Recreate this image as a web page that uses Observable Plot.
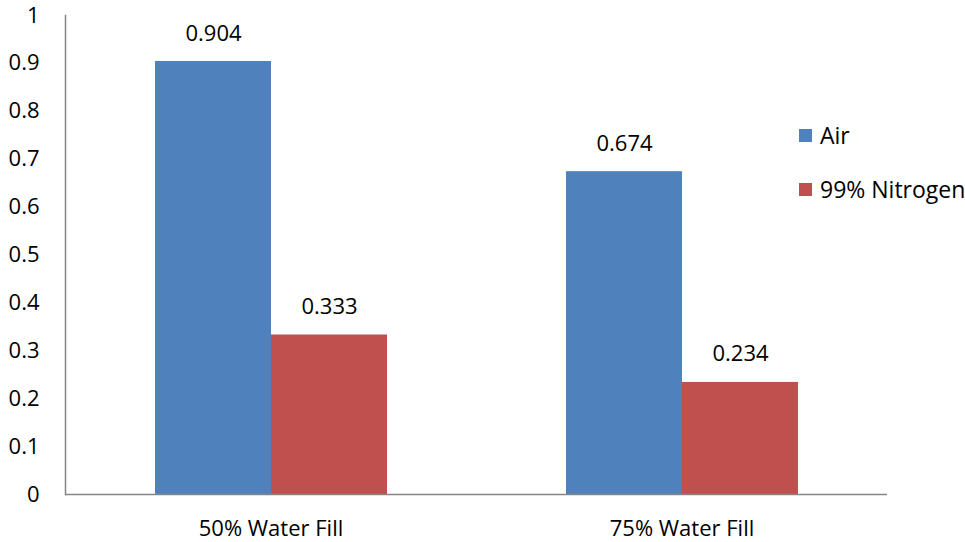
<!DOCTYPE html>
<html>
<head>
<meta charset="utf-8">
<script src="https://cdn.jsdelivr.net/npm/d3@7"></script>
<script src="https://cdn.jsdelivr.net/npm/@observablehq/plot@0.6"></script>
<style>
  html, body { margin: 0; padding: 0; background: #fff; }
  #chart { position: relative; width: 965px; height: 542px; overflow: hidden; font-family: "Open Sans", Lato, sans-serif; }
  .legend { position: absolute; left: 799px; top: 120px; font-size: 23px; color: #000; }
  .legend .item { display: flex; align-items: center; height: 30px; margin-bottom: 24px; white-space: nowrap; }
  .legend .swatch { width: 13px; height: 13px; margin-right: 8px; flex: none; }
</style>
</head>
<body>
<div id="chart"></div>
<script>
// Water fill level groups and the two gas series
const groups = ["50% Water Fill", "75% Water Fill"];
const series = ["Air", "99% Nitrogen"];
const airValues = [0.904, 0.674];
const nitrogenValues = [0.333, 0.234];
const yTicks = [0, 0.1, 0.2, 0.3, 0.4, 0.5, 0.6, 0.7, 0.8, 0.9, 1];
const colors = ["#4F81BD", "#C0504D"];

const rows = groups.flatMap((g, i) => [
  {group: g, series: series[0], value: airValues[i]},
  {group: g, series: series[1], value: nitrogenValues[i]}
]);

const chart = Plot.plot({
  width: 965,
  height: 542,
  marginLeft: 65,
  marginRight: 78,
  marginTop: 15,
  marginBottom: 48,
  style: {fontFamily: "'Open Sans', Lato, sans-serif", fontSize: "22px", color: "#000", background: "#fff"},
  fx: {domain: groups, padding: 0, label: null, axis: "bottom", tickSize: 0, tickPadding: 26},
  x: {domain: series, paddingInner: 0, paddingOuter: 0.757, axis: null},
  y: {domain: [0, 1], ticks: yTicks, tickSize: 0, tickPadding: 26, label: null, tickFormat: d => String(d)},
  color: {domain: series, range: colors},
  marks: [
    Plot.barY(rows, {fx: "group", x: "series", y: "value", fill: "series"}),
    Plot.text(rows, {fx: "group", x: "series", y: "value", text: d => d.value.toFixed(3), dy: -28, fontSize: 22, fill: "#000"}),
    Plot.ruleY([0], {stroke: "#868686", strokeWidth: 1.5}),
    Plot.frame({anchor: "left", facetAnchor: "left", stroke: "#868686", strokeWidth: 1.5})
  ]
});

const root = document.getElementById("chart");
root.appendChild(chart);

// Series legend on the right
const legend = document.createElement("div");
legend.className = "legend";
series.forEach((s, i) => {
  const item = document.createElement("div");
  item.className = "item";
  const sw = document.createElement("span");
  sw.className = "swatch";
  sw.style.background = colors[i];
  const label = document.createElement("span");
  label.textContent = s;
  item.appendChild(sw);
  item.appendChild(label);
  legend.appendChild(item);
});
root.appendChild(legend);
</script>
</body>
</html>
